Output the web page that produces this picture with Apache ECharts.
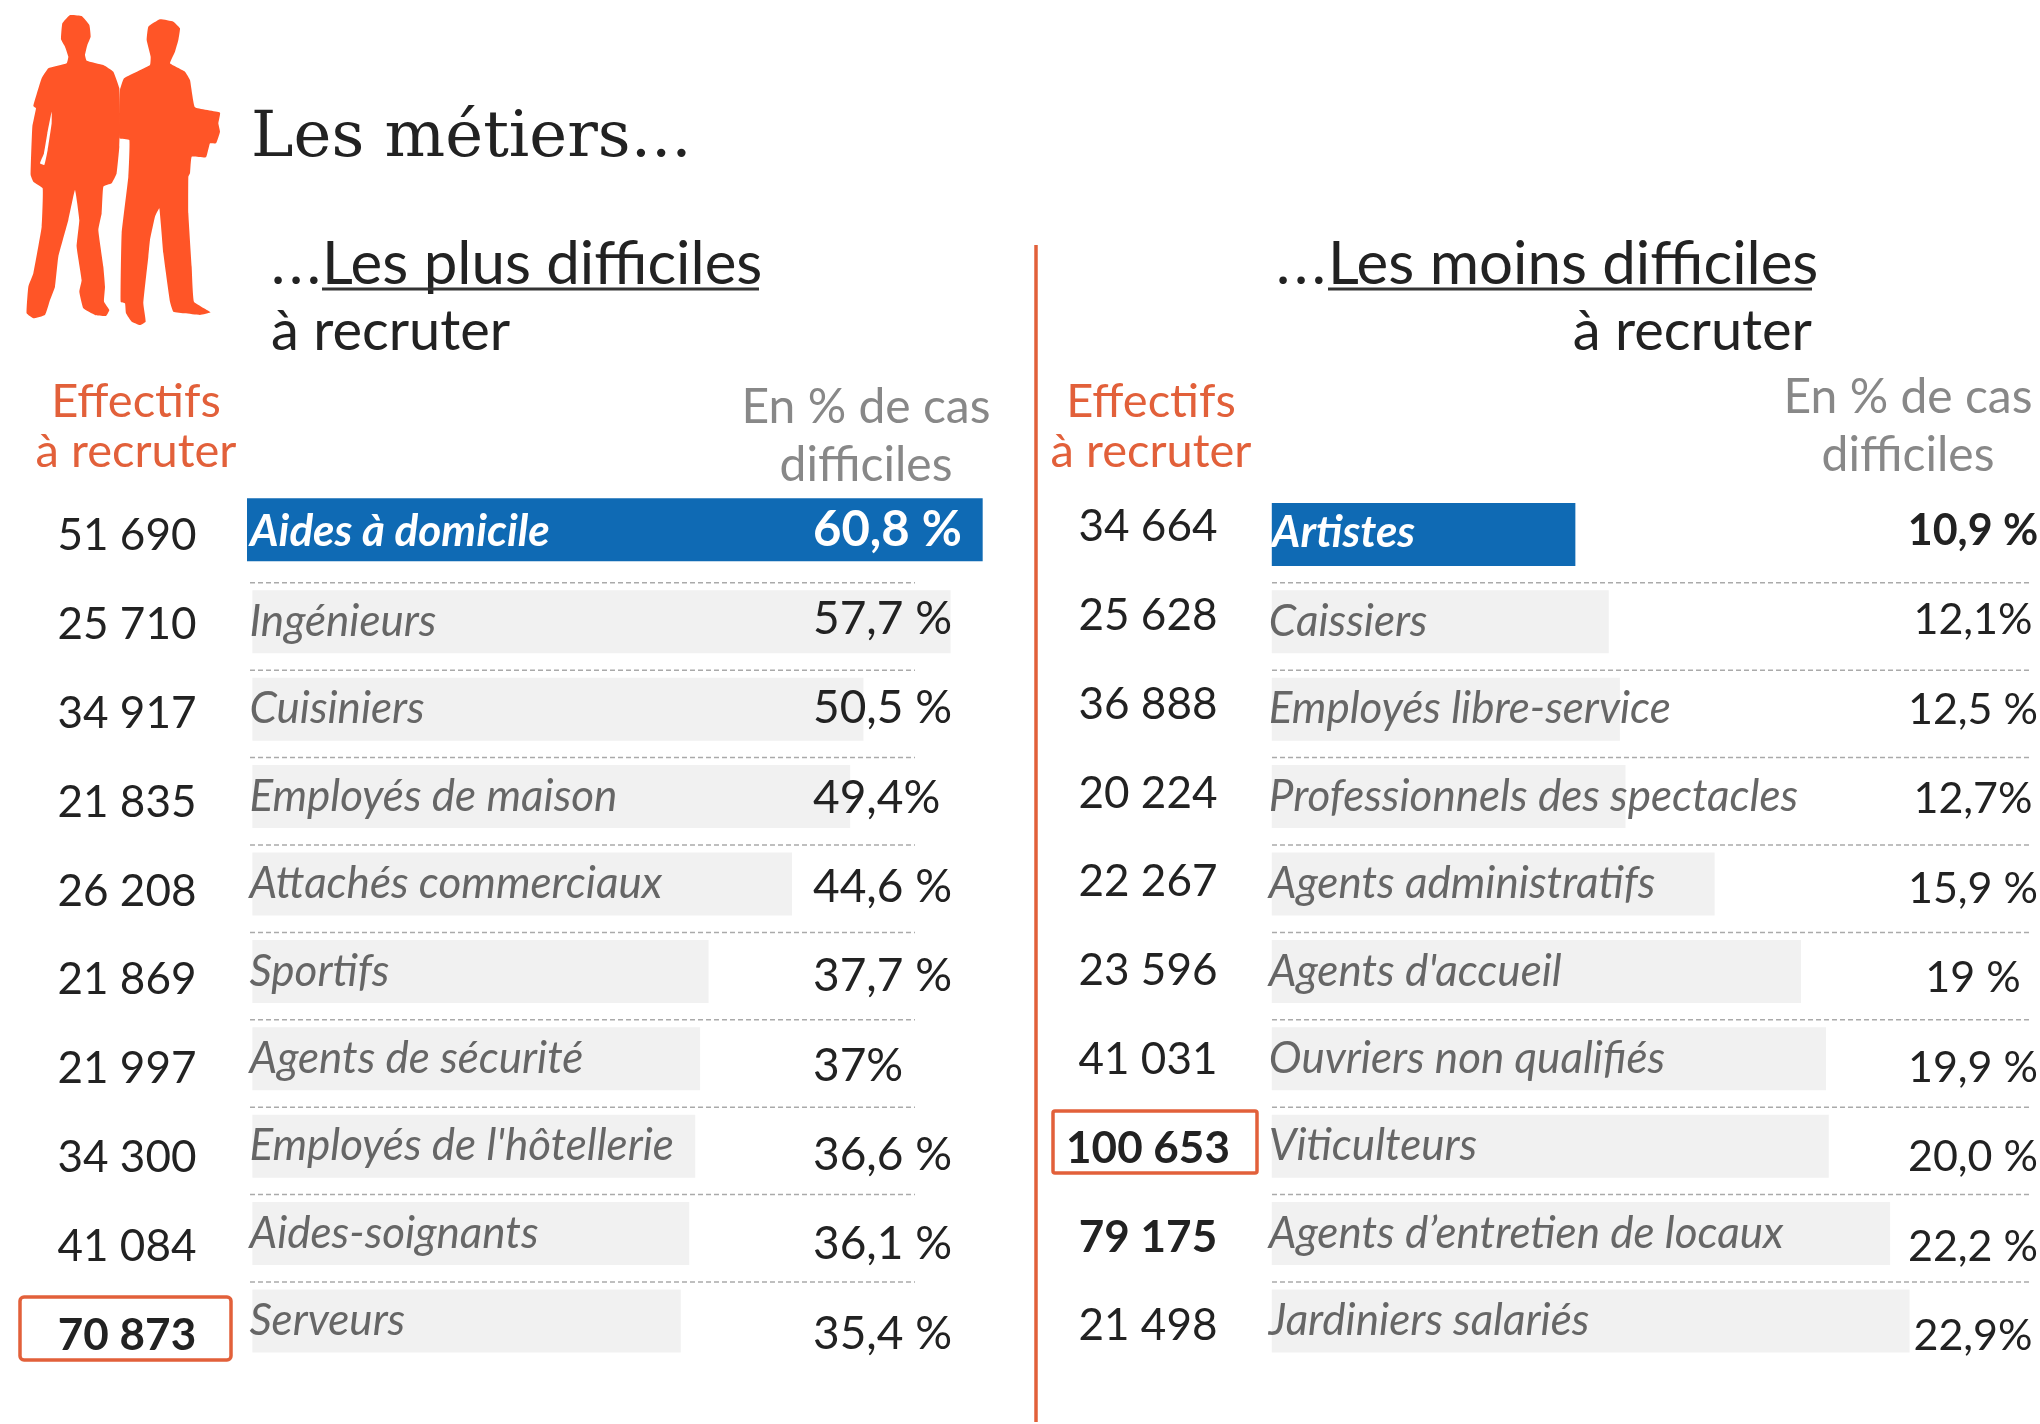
<!doctype html>
<html>
<head>
<meta charset="UTF-8">
<title>Les métiers</title>
<style>
	html,body{margin:0;padding:0;background:#fff;}
	#chart{width:2040px;height:1424px;}
</style>
</head>
<body>
<div id="chart"></div>
<script src="https://cdn.jsdelivr.net/npm/echarts@6/dist/echarts.min.js"></script>
<script>
// metiers les plus difficiles
var metiersPlus = ['Aides à domicile','Ingénieurs','Cuisiniers','Employés de maison','Attachés commerciaux','Sportifs','Agents de sécurité',"Employés de l'hôtellerie",'Aides-soignants','Serveurs'];
var tauxPlus = [60.8,57.7,50.5,49.4,44.6,37.7,37,36.6,36.1,35.4];
var tauxPlusTextes = ['60,8 %','57,7 %','50,5 %','49,4%','44,6 %','37,7 %','37%','36,6 %','36,1 %','35,4 %'];
var effectifsPlus = [51690,25710,34917,21835,26208,21869,21997,34300,41084,70873];
// metiers les moins difficiles
var metiersMoins = ['Artistes','Caissiers','Employés libre-service','Professionnels des spectacles','Agents administratifs',"Agents d'accueil",'Ouvriers non qualifiés','Viticulteurs','Agents d’entretien de locaux','Jardiniers salariés'];
var tauxMoins = [10.9,12.1,12.5,12.7,15.9,19,19.9,20,22.2,22.9];
var tauxMoinsTextes = ['10,9 %','12,1%','12,5 %','12,7%','15,9 %','19 %','19,9 %','20,0 %','22,2 %','22,9%'];
var effectifsMoins = [34664,25628,36888,20224,22267,23596,41031,100653,79175,21498];
// lignes en gras
var grasPlus = [70873];
var grasMoins = [100653,79175];

var FONT = 'Lato';
var BLUE = '#0f6ab4', GREY = '#f1f1f1', ORANGE = '#e2603a', DARK = '#222', MID = '#666';
var PITCH = 87.4;

function fmt(n){
	return String(n).replace(/\B(?=(\d{3})+$)/g,' ');
}

var grids = [], xAxes = [], yAxes = [], series = [], graphics = [];

// une grille de barres : echelle en px par %
function addBars(left,top,rows,pxPerPct,maxX,noms,taux,blueIdx,blueOffset){
	var i = grids.length;
	grids.push({left:left,top:top,width:pxPerPct*maxX,height:rows*PITCH,outerBoundsMode:'none'});
	xAxes.push({gridIndex:i,type:'value',min:0,max:maxX,show:false});
	yAxes.push({gridIndex:i,type:'category',inverse:true,show:false,data:noms});
	series.push({
		type:'bar',xAxisIndex:i,yAxisIndex:i,barWidth:63,silent:true,z:2,
		data:taux.map(function(v,k){
			return {value:v,itemStyle:{color:k===blueIdx?BLUE:GREY},
				label:k===blueIdx?{color:'#fff',fontWeight:'bold',distance:0,offset:blueOffset}:{}};
		}),
		label:{show:true,position:'insideLeft',distance:-3,formatter:'{b}',
			color:MID,fontFamily:FONT,fontStyle:'italic',fontSize:44}
	});
}

// une colonne de textes : axe categoriel sans trait
function addColumn(x,center,pitch,textes,align,size){
	var i = grids.length;
	grids.push({left:x,top:center-pitch/2,width:10,height:pitch*textes.length,outerBoundsMode:'none'});
	xAxes.push({gridIndex:i,type:'value',show:false});
	yAxes.push({gridIndex:i,type:'category',inverse:true,z:5,
		axisLine:{show:false},axisTick:{show:false},splitLine:{show:false},
		axisLabel:{interval:0,margin:0,align:align,fontFamily:FONT,fontSize:size,color:DARK},
		data:textes});
	series.push({type:'bar',xAxisIndex:i,yAxisIndex:i,data:[],silent:true});
}

function colonneEffectifs(vals,gras){
	return vals.map(function(v){
		return gras.indexOf(v)>=0 ? {value:fmt(v),textStyle:{fontWeight:'bold',align:'center',fontFamily:FONT,fontSize:44}} : fmt(v);
	});
}

// gauche
addBars(247,498-(PITCH-63.5)/2,1,12.1,62,metiersPlus.slice(0,1),tauxPlus.slice(0,1),0,[3,2]);
addBars(252.4,578.1,9,12.1,62,metiersPlus.slice(1),tauxPlus.slice(1),-1);
addColumn(127,536,88.85,colonneEffectifs(effectifsPlus,grasPlus),'center',44);
addColumn(813,530,89.3,tauxPlusTextes.map(function(t,k){
	return k===0 ? {value:t,textStyle:{color:'#fff',fontWeight:'bold',align:'left',fontFamily:FONT,fontSize:49}} : t;
}),'left',46);
// droite
addBars(1271.8,490.7,10,27.85,25,metiersMoins,tauxMoins,0,[0,-2]);
addColumn(1148,527,88.8,colonneEffectifs(effectifsMoins,grasMoins),'center',44);
addColumn(1973,531,89.5,tauxMoinsTextes.map(function(t,k){
	return k===0 ? {value:t,textStyle:{fontWeight:'bold',align:'center',fontFamily:FONT,fontSize:43}} : t;
}),'center',43);

// pointilles entre les lignes
for(var r=0;r<9;r++){
	var yy = 582.8+r*PITCH;
	[[250,915],[1272,2030]].forEach(function(p){
		graphics.push({type:'line',silent:true,shape:{x1:p[0],y1:yy,x2:p[1],y2:yy},
			style:{stroke:'#aaa',lineWidth:1.5,lineDash:[5,3]}});
	});
}

function txt(x,y,s,size,color,align,extra){
	graphics.push({type:'text',silent:true,x:x,y:y,style:Object.assign({
		text:s,fontFamily:FONT,fontSize:size,fill:color,textAlign:align||'left',textVerticalAlign:'bottom'
	},extra||{})});
}
function rule(x1,x2,y,color,w){
	graphics.push({type:'line',silent:true,shape:{x1:x1,y1:y,x2:x2,y2:y},style:{stroke:color,lineWidth:w}});
}

// titres
txt(251,171,'Les métiers...',64,'#222','left',{fontFamily:'DejaVu Serif'});
txt(271,295,'.\u200a.\u200a.',60,DARK);
txt(322,295,'Les plus difficiles',60,DARK);
rule(322,759,289,'#333',3);
txt(271,360,'à recruter',56,DARK);
txt(1276,295,'.\u200a.\u200a.',60,DARK);
txt(1328,295,'Les moins difficiles',60,DARK);
rule(1328,1812,289,'#333',3);
txt(1812,360,'à recruter',56,DARK,'right');

// en-tetes de colonnes
txt(136,425,'Effectifs',47,ORANGE,'center');
txt(136,475,'à recruter',47,ORANGE,'center');
txt(1151,425,'Effectifs',47,ORANGE,'center');
txt(1151,475,'à recruter',47,ORANGE,'center');
txt(866,432,'En % de cas',48,'#888','center');
txt(866,490,'difficiles',48,'#888','center');
txt(1908,422,'En % de cas',48,'#888','center');
txt(1908,480,'difficiles',48,'#888','center');

// separateur et cadres
graphics.push({type:'line',silent:true,shape:{x1:1036,y1:245,x2:1036,y2:1422},style:{stroke:ORANGE,lineWidth:3.5}});
graphics.push({type:'rect',silent:true,shape:{x:20,y:1297,width:211,height:63,r:4},style:{fill:'none',stroke:ORANGE,lineWidth:3.5}});
graphics.push({type:'rect',silent:true,shape:{x:1053,y:1111,width:204,height:62,r:2},style:{fill:'none',stroke:ORANGE,lineWidth:3.5}});

// silhouettes
function silhouette(pts,fill){
	graphics.push({type:'polygon',silent:true,
		shape:{points:pts.map(function(p){return [p[0]/3,p[1]/3];}),smooth:0.1},
		style:{fill:fill}});
}
silhouette([[210,45],[245,48],[268,75],[272,110],[262,135],[255,165],[260,182],[310,195],[340,215],[358,265],[360,340],[358,440],[350,520],[335,550],[310,560],[305,640],[295,690],[310,800],[315,860],[312,905],[328,930],[318,948],[285,945],[250,925],[238,875],[245,840],[230,740],[238,660],[225,570],[205,660],[175,770],[165,860],[150,900],[135,945],[100,955],[80,940],[85,860],[100,820],[125,680],[128,565],[100,545],[92,525],[97,380],[108,325],[100,318],[125,235],[145,205],[200,190],[205,170],[195,140],[183,118],[187,70]],'#ff5527');
silhouette([[155,335],[142,400],[132,460],[120,490],[133,495],[143,450],[155,370]],'#fff');
silhouette([[480,58],[520,65],[540,85],[535,120],[525,155],[510,190],[555,215],[570,240],[585,322],[660,338],[655,370],[660,395],[648,430],[630,430],[618,472],[575,470],[570,520],[565,530],[565,640],[575,800],[582,905],[632,937],[600,945],[555,940],[520,935],[510,905],[490,760],[478,625],[465,650],[450,720],[445,770],[430,910],[437,965],[420,975],[395,965],[378,940],[375,910],[362,905],[365,700],[385,530],[388,420],[358,415],[360,270],[372,235],[450,195],[452,170],[440,120],[445,80]],'#ff5527');

var chart = echarts.init(document.getElementById('chart'));
chart.setOption({
	animation:false,
	backgroundColor:'#fff',
	grid:grids,
	xAxis:xAxes,
	yAxis:yAxes,
	series:series,
	graphic:{elements:graphics}
});
</script>
</body>
</html>
